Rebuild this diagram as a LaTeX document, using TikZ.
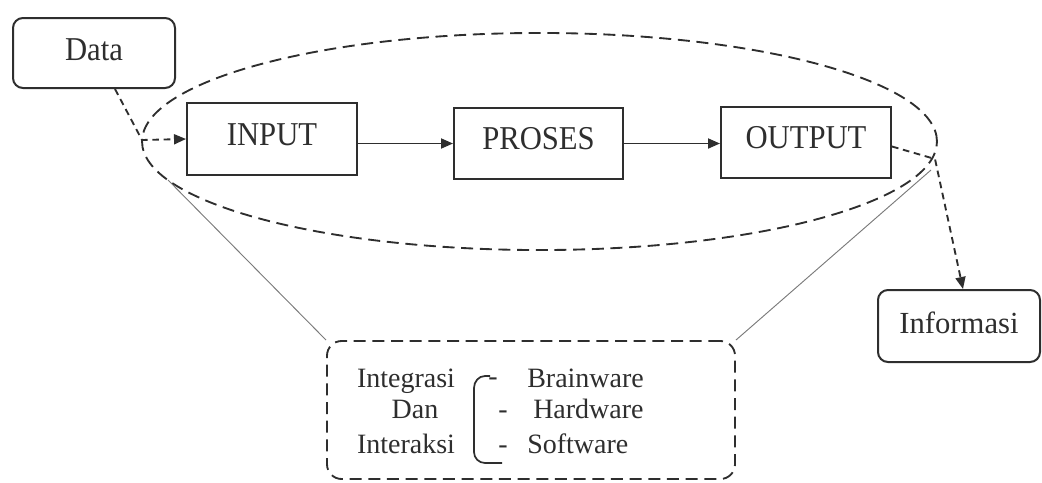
\documentclass[tikz,border=0pt]{standalone}
\usepackage{fontspec}
\setmainfont{Liberation Serif}
\newfontfamily\boxfont[FakeStretch=0.92]{Liberation Serif}
\usetikzlibrary{arrows.meta,shapes.geometric,calc}
\definecolor{ink}{HTML}{2E2E2E}
\definecolor{thinline}{HTML}{7A7A7A}
\begin{document}
\begin{tikzpicture}[x=0.75pt,y=-0.75pt,
  proc/.style={draw=ink, line width=1.5pt, text=ink, inner sep=0pt, text depth=7pt,
    font=\boxfont\fontsize{25}{30}\selectfont},
  term/.style={proc, rounded corners=7.5pt, text depth=5pt},
  oval/.style={draw=ink, line width=1.4pt, dash pattern=on 9pt off 5pt},
  flow/.style={draw=ink, line width=1.4pt, -{Triangle[length=9pt,width=7.5pt]}},
  dotflow/.style={flow, dash pattern=on 5pt off 3.5pt},
  zoomline/.style={draw=thinline, line width=0.7pt},
  lbl/.style={text=ink, inner sep=0pt, anchor=base, font=\fontsize{21}{25}\selectfont}]
\useasboundingbox (0,0) rectangle (1042,482);

% the system boundary
\draw[oval] (539.5,141.5) ellipse [x radius=298.1pt, y radius=81.4pt];

% terminals and process boxes
\node[term, minimum width=121.5pt, minimum height=52.5pt] (data) at (94,53) {Data};
\node[proc, minimum width=127.5pt, minimum height=54pt] (input) at (272,139) {INPUT};
\node[proc, minimum width=126.75pt, minimum height=53.25pt] (proses) at (538.5,143.5) {PROSES};
\node[proc, minimum width=127.5pt, minimum height=53.25pt] (output) at (806,142.5) {OUTPUT};
\node[term, minimum width=121.5pt, minimum height=54pt,
  font=\fontsize{23}{28}\selectfont] (info) at (959,326) {Informasi};

% detail box
\node[draw=ink, line width=1.4pt, dash pattern=on 9pt off 5pt, rounded corners=11pt,
  minimum width=306pt, minimum height=103.5pt] (grp) at (531,410) {};

% junction points on the boundary
\coordinate (ltip) at (142,140);
\coordinate (rtip) at (935,159);
\coordinate (lfoot) at (168,180);
\coordinate (rfoot) at (931,170);

% flows
\draw[dotflow] ([xshift=15.75pt]data.south) -- (ltip) -- (input.west);
\draw[flow] (input.east |- proses.west) -- (proses.west);
\draw[flow] (proses.east) -- (output.west |- proses.east);
\draw[dotflow] ([yshift=-3pt]output.east) -- (rtip) -- ([xshift=3pt]info.north);

% zoom lines to the detail box
\draw[zoomline] (lfoot) -- (grp.north west);
\draw[zoomline] (rfoot) -- (grp.north east);

% detail text
\node[lbl] (t1) at (406,387) {Integrasi};
\node[lbl] (t2) at (415,418) {Dan};
\node[lbl] (t3) at (406,453) {Interaksi};
\draw[draw=ink, line width=1.3pt] (490,376) -- (485,376) to[out=180,in=90] (474,388)
  -- (474,452) to[out=-90,in=180] (485,463) -- (502,463);
\node[lbl] (d1) at (493,385) {-};
\node[lbl] (d2) at (503,418) {-};
\node[lbl] (d3) at (503,453) {-};
\node[lbl, anchor=base west] (w1) at (527,387) {Brainware};
\node[lbl, anchor=base west] (w2) at (533,418) {Hardware};
\node[lbl, anchor=base west] (w3) at (527,453) {Software};
\end{tikzpicture}
\end{document}
